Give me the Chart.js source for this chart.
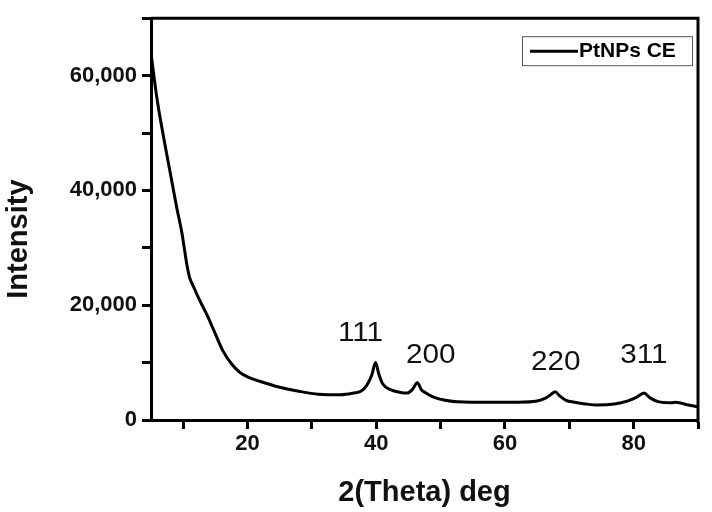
<!DOCTYPE html>
<html>
<head>
<meta charset="utf-8">
<script src="https://cdn.jsdelivr.net/npm/chart.js@4"></script>
<style>
  html, body { margin: 0; padding: 0; background: #fff; }
  #wrap { width: 712px; height: 512px; }
</style>
</head>
<body>
<div id="wrap"><canvas id="xrdChart" width="712" height="512"></canvas></div>
<script>
// XRD pattern
const twoTheta = [5.0, 5.5, 6.0, 7.0, 8.0, 8.5, 9.0, 9.8, 10.3, 10.6, 11.0, 11.5, 12.5, 13.7, 15.0, 16.2, 17.5, 18.8, 20.0, 22.0,
    25.0, 28.0, 31.0, 34.5, 36.5, 37.6, 38.5, 39.3, 39.9, 40.4, 41.0, 42.2, 43.8, 44.8, 45.6, 46.4, 47.0, 47.6, 48.9, 50.5,
    52.6, 57.8, 62.0, 65.0, 66.3, 67.2, 67.8, 68.5, 69.5, 70.8, 72.5, 74.5, 77.0, 79.0, 80.5, 81.6, 82.5, 83.8, 85.9, 86.5,
    87.5, 88.5, 90.0];
const intensity = [64000, 59500, 55500, 49000, 43000, 40000, 37000, 32600, 29000, 26900, 24800, 23500, 21000, 18300, 15000, 12000, 9800, 8300, 7500, 6700,
    5700, 5000, 4500, 4400, 4700, 5000, 6000, 7800, 10000, 8000, 6300, 5300, 4800, 4700, 5300, 6500, 5300, 4800, 4000, 3500,
    3200, 3100, 3100, 3300, 3800, 4500, 4900, 4200, 3400, 3100, 2800, 2600, 2800, 3300, 4000, 4700, 3900, 3200, 3000, 3100,
    2900, 2600, 2300];

// peak labels (hkl) and where they sit in data units
const peakLabels = ['111', '200', '220', '311'];
const peakLabelX = [37.55, 48.46, 67.9, 81.6];
const peakLabelY = [15090, 11150, 9950, 11150];

const seriesName = 'PtNPs CE';
const xTitle = '2(Theta) deg';
const yTitle = 'Intensity';

const points = twoTheta.map((t, i) => ({ x: t, y: intensity[i] }));

// box around plot, y title, peak labels, legend
const extras = {
    id: 'extras',
    afterDraw(chart) {
        const ctx = chart.ctx;
        const a = chart.chartArea;
        const xs = chart.scales.x;
        const ys = chart.scales.y;
        ctx.save();
        ctx.strokeStyle = '#000';
        ctx.lineWidth = 3;
        ctx.beginPath();
        ctx.moveTo(a.left, a.top);
        ctx.lineTo(a.right, a.top);
        ctx.lineTo(a.right, a.bottom + 3);
        ctx.stroke();

        // y axis title
        ctx.save();
        ctx.translate(19, (a.top + a.bottom) / 2 + 20);
        ctx.rotate(-Math.PI / 2);
        ctx.fillStyle = '#111';
        ctx.font = 'bold 29px "Liberation Sans", Arial, sans-serif';
        ctx.textAlign = 'center';
        ctx.textBaseline = 'middle';
        ctx.fillText(yTitle, 0, 0);
        ctx.restore();

        ctx.fillStyle = '#111';
        ctx.font = '27px "Liberation Sans", Arial, sans-serif';
        ctx.textAlign = 'center';
        ctx.textBaseline = 'middle';
        peakLabels.forEach((lbl, i) => {
            ctx.save();
            ctx.translate(xs.getPixelForValue(peakLabelX[i]), ys.getPixelForValue(peakLabelY[i]));
            ctx.scale(1.1, 1);
            ctx.fillText(lbl, 0, 0);
            ctx.restore();
        });

        // legend
        const bx = a.right - 176, by = a.top + 18, bw = 170, bh = 29;
        ctx.lineWidth = 1;
        ctx.strokeStyle = '#555';
        ctx.strokeRect(bx + 0.5, by + 0.5, bw, bh);
        ctx.strokeStyle = '#000';
        ctx.lineWidth = 3;
        ctx.beginPath();
        ctx.moveTo(bx + 8, by + 15);
        ctx.lineTo(bx + 56, by + 15);
        ctx.stroke();
        ctx.font = 'bold 21px "Liberation Sans", Arial, sans-serif';
        ctx.textAlign = 'left';
        ctx.fillStyle = '#000';
        ctx.fillText(chart.data.datasets[0].label, bx + 57, by + 15);
        ctx.restore();
    }
};

new Chart(document.getElementById('xrdChart'), {
    type: 'scatter',
    data: {
        datasets: [{
            label: seriesName,
            data: points,
            showLine: true,
            borderColor: '#000',
            borderWidth: 3,
            pointRadius: 0,
            cubicInterpolationMode: 'monotone'
        }]
    },
    options: {
        responsive: false,
        animation: false,
        layout: { padding: { left: 0, top: 13, right: 14, bottom: 0 } },
        plugins: {
            legend: { display: false },
            tooltip: { enabled: false }
        },
        scales: {
            x: {
                type: 'linear',
                min: 5,
                max: 90,
                afterFit: (scale) => { scale.height = 92; },
                afterBuildTicks: (scale) => {
                    scale.ticks = scale.ticks.filter(t => t.value % 10 === 0);
                },
                border: { display: true, color: '#000', width: 3 },
                grid: { drawOnChartArea: false, tickLength: 9, tickWidth: 3, tickColor: '#000' },
                ticks: {
                    stepSize: 10,
                    color: '#111',
                    padding: 2,
                    font: { family: '"Liberation Sans", Arial, sans-serif', size: 22, weight: 'bold' },
                    callback: (v) => (v % 20 === 0 ? String(v) : '')
                },
                title: {
                    display: true,
                    text: xTitle,
                    color: '#111',
                    padding: { top: 0, bottom: 2 },
                    font: { family: '"Liberation Sans", Arial, sans-serif', size: 29, weight: 'bold' }
                }
            },
            y: {
                min: 0,
                max: 70000,
                afterFit: (scale) => { scale.width = 151; },
                border: { display: true, color: '#000', width: 3 },
                grid: { drawOnChartArea: false, tickLength: 9, tickWidth: 3, tickColor: '#000' },
                ticks: {
                    stepSize: 10000,
                    color: '#111',
                    padding: 5,
                    font: { family: '"Liberation Sans", Arial, sans-serif', size: 22, weight: 'bold' },
                    callback: (v) => (v % 20000 === 0 && v < 70000 ? v.toLocaleString('en-US') : '')
                },
                title: { display: false }
            }
        }
    },
    plugins: [extras]
});
</script>
</body>
</html>
